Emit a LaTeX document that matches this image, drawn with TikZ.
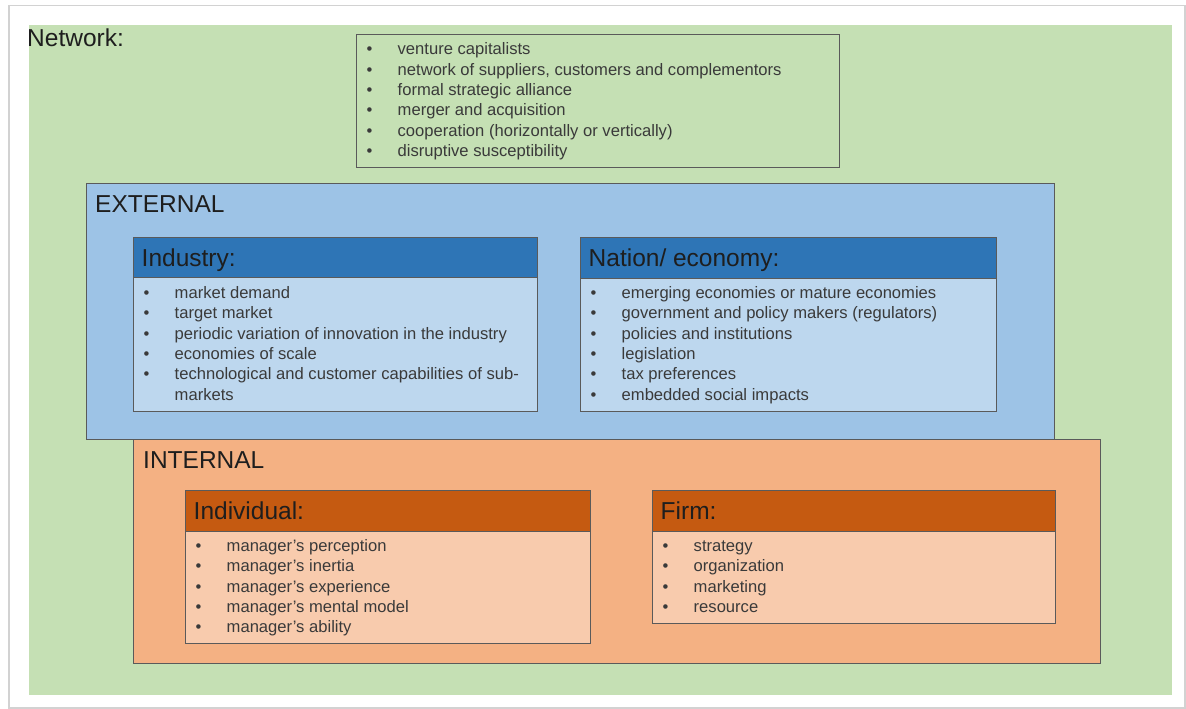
\documentclass[tikz,border=0pt]{standalone}
\usepackage{fontspec}
\setmainfont{Liberation Sans}
\definecolor{netgreen}{HTML}{C5E0B4}
\definecolor{extblue}{HTML}{9DC3E6}
\definecolor{hdrblue}{HTML}{2E75B6}
\definecolor{bodyblue}{HTML}{BDD7EE}
\definecolor{intorange}{HTML}{F4B183}
\definecolor{hdrorange}{HTML}{C55A11}
\definecolor{bodyorange}{HTML}{F8CBAD}
\definecolor{edgegray}{HTML}{5A5A5A}
\definecolor{ink}{HTML}{1E1E1E}
\definecolor{itemink}{HTML}{3A3A3A}
\newcommand{\myitem}[1]{\hbox{\makebox[31pt][l]{\textbullet}#1}}
\newcommand{\mylist}[1]{\vtop{\baselineskip=20.3pt #1}}
\begin{document}
\begin{tikzpicture}[x=1pt,y=-1pt,
  frame/.style={draw=gray!35, line width=1.5pt, inner sep=0pt, anchor=north west},
  box/.style={draw=edgegray, line width=1.1pt, inner sep=0pt, anchor=north west},
  title/.style={anchor=base west, inner sep=0pt, font=\fontsize{24.5}{29}\selectfont, text=ink},
  list/.style={anchor=base west, inner sep=0pt, font=\fontsize{16.6}{20.3}\selectfont, text=itemink}]
\useasboundingbox (0,0) rectangle (1186,709);
\fill[white] (0,0) rectangle (1186,709);
\node[frame, minimum width=1176pt, minimum height=702pt] (frame) at (8,5) {};
\node[box, draw=none, fill=netgreen, minimum width=1143pt, minimum height=670pt] (net) at (28,24) {};
\node[title] (netlabel) at (27,47) {Network:};
\node[box, fill=netgreen, line width=1.4pt, minimum width=483pt, minimum height=133pt] (netbox) at (356,34) {};
\node[list] (netlist) at (366.5,55) {\mylist{%
  \myitem{venture capitalists}
  \myitem{network of suppliers, customers and complementors}
  \myitem{formal strategic alliance}
  \myitem{merger and acquisition}
  \myitem{cooperation (horizontally or vertically)}
  \myitem{disruptive susceptibility}}};
% External
\node[box, fill=extblue, minimum width=968pt, minimum height=256pt] (ext) at (86,183) {};
\node[title] (extlabel) at (95,212) {EXTERNAL};
\node[box, fill=bodyblue, minimum width=404pt, minimum height=174pt] (ind) at (133,237) {};
\node[box, fill=hdrblue, minimum width=404pt, minimum height=40pt] (indhdr) at (133,237) {};
\node[title] (indlabel) at (141.5,266) {Industry:};
\node[list] (indlist) at (143.5,298.5) {\mylist{%
  \myitem{market demand}
  \myitem{target market}
  \myitem{periodic variation of innovation in the industry}
  \myitem{economies of scale}
  \myitem{technological and customer capabilities of sub-}
  \hbox{\hspace*{31pt}markets}}};
\node[box, fill=bodyblue, minimum width=416pt, minimum height=174pt] (nat) at (580,237) {};
\node[box, fill=hdrblue, minimum width=416pt, minimum height=41pt] (nathdr) at (580,237) {};
\node[title] (natlabel) at (588.5,266) {Nation/ economy:};
\node[list] (natlist) at (590.5,298.5) {\mylist{%
  \myitem{emerging economies or mature economies}
  \myitem{government and policy makers (regulators)}
  \myitem{policies and institutions}
  \myitem{legislation}
  \myitem{tax preferences}
  \myitem{embedded social impacts}}};
% Internal
\node[box, fill=intorange, minimum width=967pt, minimum height=224pt] (int) at (133,439) {};
\node[title] (intlabel) at (143,468) {INTERNAL};
\node[box, fill=bodyorange, minimum width=405pt, minimum height=153pt] (indiv) at (185,490) {};
\node[box, fill=hdrorange, minimum width=405pt, minimum height=41pt] (indivhdr) at (185,490) {};
\node[title] (indivlabel) at (193.5,519) {Individual:};
\node[list] (indivlist) at (195.5,551.5) {\mylist{%
  \myitem{manager's perception}
  \myitem{manager's inertia}
  \myitem{manager's experience}
  \myitem{manager's mental model}
  \myitem{manager's ability}}};
\node[box, fill=bodyorange, minimum width=403pt, minimum height=133pt] (firm) at (652,490) {};
\node[box, fill=hdrorange, minimum width=403pt, minimum height=41pt] (firmhdr) at (652,490) {};
\node[title] (firmlabel) at (660.5,519) {Firm:};
\node[list] (firmlist) at (662.5,551.5) {\mylist{%
  \myitem{strategy}
  \myitem{organization}
  \myitem{marketing}
  \myitem{resource}}};
\end{tikzpicture}
\end{document}
